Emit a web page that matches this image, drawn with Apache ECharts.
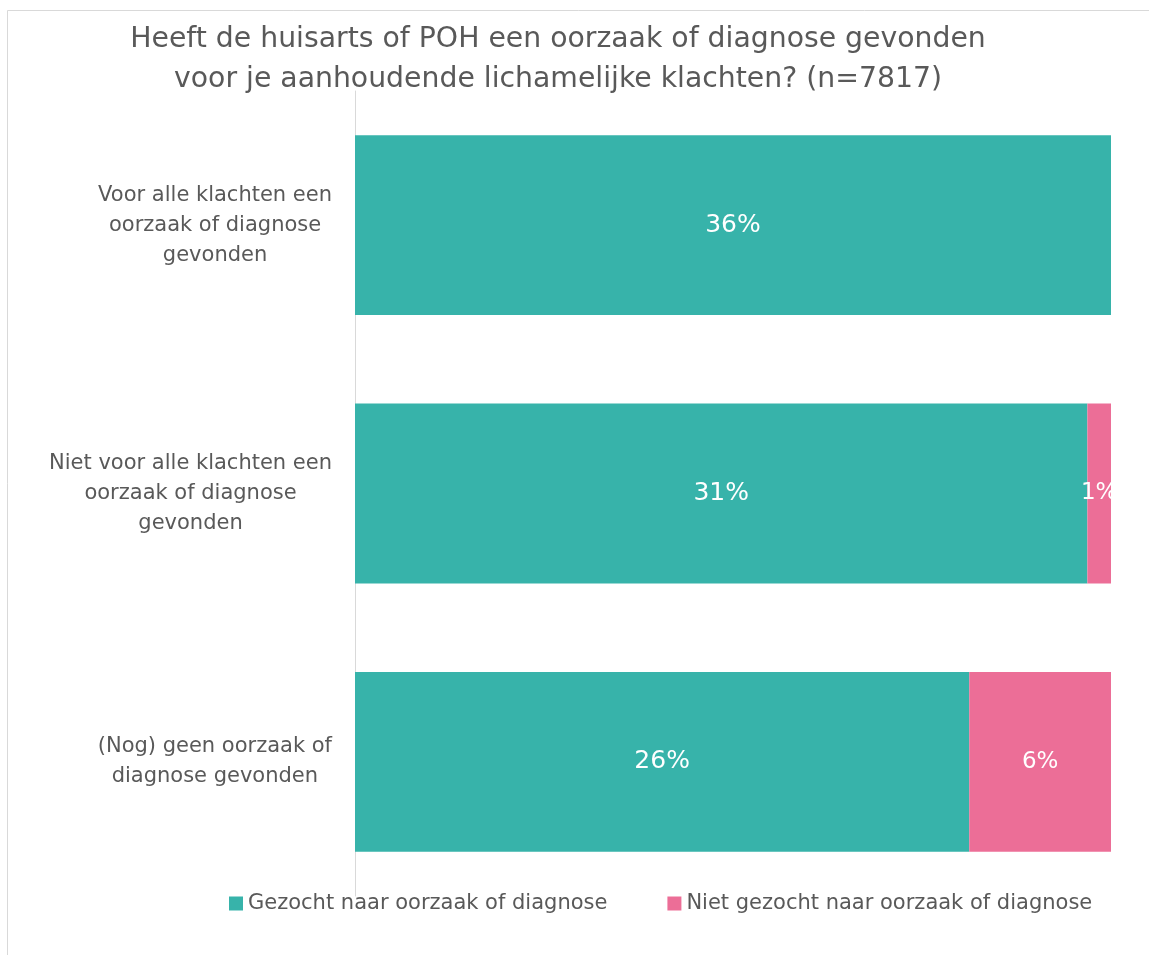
<!DOCTYPE html>
<html>
<head>
<meta charset="utf-8">
<script src="https://cdn.jsdelivr.net/npm/echarts@6/dist/echarts.min.js"></script>
<style>
  html, body { margin: 0; padding: 0; background: #fff; }
  #chart { width: 1149px; height: 955px; }
</style>
</head>
<body>
<div id="chart"></div>
<script>
  // vragen (categorieën), van boven naar beneden
  const categories = [
    "Voor alle klachten een\noorzaak of diagnose\ngevonden",
    "Niet voor alle klachten een\noorzaak of diagnose\ngevonden",
    "(Nog) geen oorzaak of\ndiagnose gevonden"
  ];
  // percentages van totaal (n=7817)
  const gezocht = [36, 31, 26];
  const nietGezocht = [0, 1, 6];
  const seriesNames = ["Gezocht naar oorzaak of diagnose", "Niet gezocht naar oorzaak of diagnose"];

  const textColor = "#595959";
  const fontFamily = "'DejaVu Sans', Verdana, sans-serif";

  // elke balk loopt tot 100% (genormaliseerd per rij)
  const totals = gezocht.map((v, i) => v + nietGezocht[i]);
  const toShare = (arr) => arr.map((v, i) => ({ value: v / totals[i] * 100, raw: v }));

  let myChart = echarts.init(document.getElementById("chart"));
  let options = {
    backgroundColor: "#fff",
    animation: false,
    textStyle: { fontFamily: fontFamily },
    title: {
      text: "Heeft de huisarts of POH een oorzaak of diagnose gevonden\nvoor je aanhoudende lichamelijke klachten? (n=7817)",
      left: 553,
      textAlign: "center",
      top: 15,
      textStyle: {
        color: textColor,
        fontSize: 28.3,
        fontWeight: "normal",
        lineHeight: 40,
        fontFamily: fontFamily
      }
    },
    legend: {
      left: 229,
      top: 893,
      padding: 0,
      itemWidth: 14,
      itemHeight: 14,
      itemGap: 60,
      icon: "rect",
      textStyle: { color: textColor, fontSize: 21, padding: [0, 0, 0, 0] },
      data: seriesNames
    },
    grid: {
      left: 355,
      right: 38,
      top: 91,
      bottom: 59,
      containLabel: false
    },
    xAxis: {
      type: "value",
      min: 0,
      max: 100,
      show: false
    },
    yAxis: {
      type: "category",
      inverse: true,
      data: categories,
      axisLine: { show: true, lineStyle: { color: "#d9d9d9", width: 1 } },
      axisTick: { show: false },
      axisLabel: {
        margin: 23,
        align: "right",
        formatter: (val) => "{c|" + val + "}",
        rich: {
          c: {
            align: "center",
            color: textColor,
            fontSize: 21,
            lineHeight: 30,
            fontFamily: fontFamily
          }
        }
      }
    },
    series: [
      {
        type: "bar",
        name: seriesNames[0],
        stack: "totaal",
        barCategoryGap: "33%",
        itemStyle: { color: "#37B3AA" },
        label: {
          show: true,
          position: "inside",
          color: "#fff",
          fontSize: 25,
          formatter: (p) => (p.data.raw > 0 ? p.data.raw + "%" : "")
        },
        data: toShare(gezocht)
      },
      {
        type: "bar",
        name: seriesNames[1],
        stack: "totaal",
        itemStyle: { color: "#EC6E97" },
        label: {
          show: true,
          position: "inside",
          color: "#fff",
          fontSize: 23,
          formatter: (p) => (p.data.raw > 0 ? p.data.raw + "%" : "")
        },
        data: toShare(nietGezocht)
      }
    ],
    graphic: [
      {
        type: "rect",
        silent: true,
        z: -1,
        shape: { x: 7.5, y: 10.5, width: 1300, height: 1100 },
        style: { fill: "none", stroke: "#d9d9d9", lineWidth: 1 }
      }
    ]
  };
  myChart.setOption(options);
</script>
</body>
</html>
